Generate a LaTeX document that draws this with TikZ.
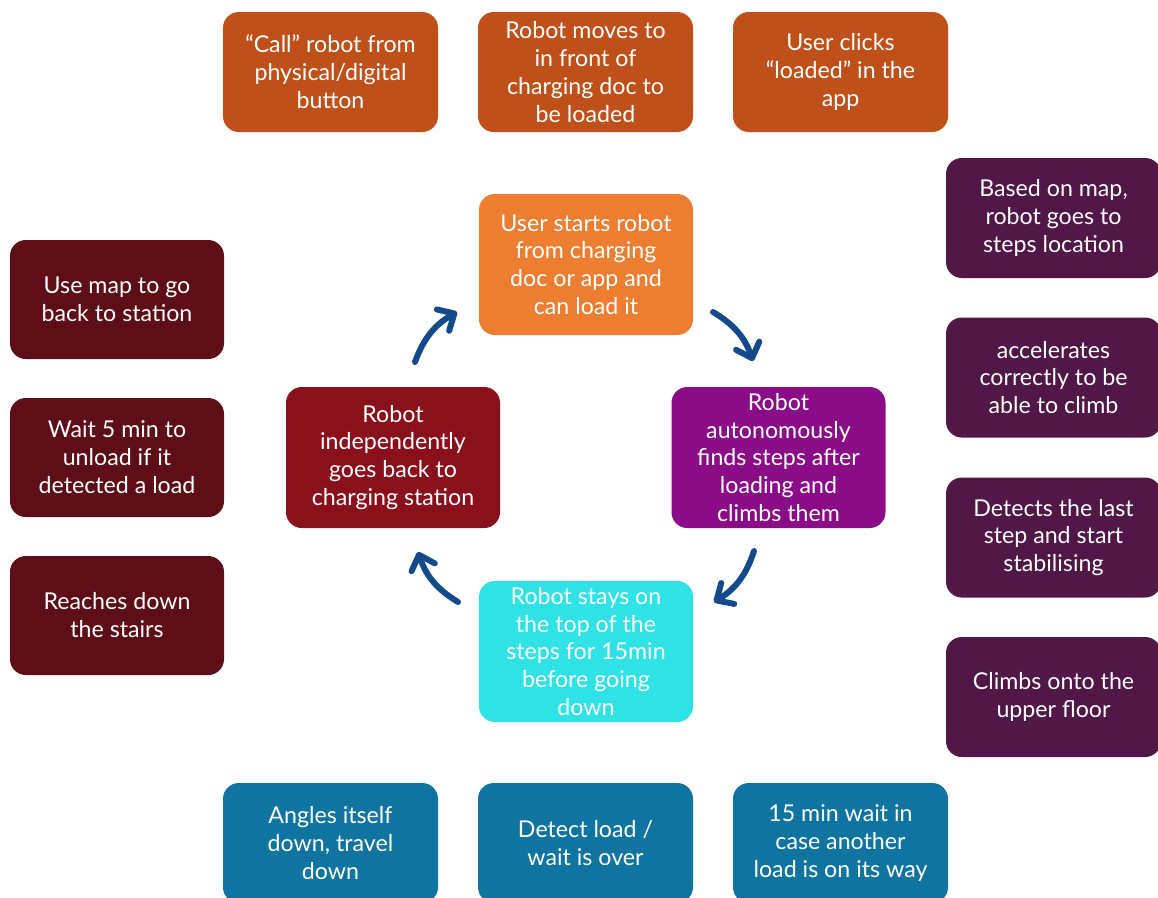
\documentclass[tikz,border=0pt]{standalone}
\usepackage{fontspec}
\setmainfont{Lato}
\usetikzlibrary{arrows.meta}
\definecolor{toprow}{HTML}{C0501A}
\definecolor{startc}{HTML}{ED7D31}
\definecolor{climbc}{HTML}{8A0C86}
\definecolor{stayc}{HTML}{2FE2E6}
\definecolor{backc}{HTML}{8A111C}
\definecolor{rightcol}{HTML}{501747}
\definecolor{leftcol}{HTML}{5D0E16}
\definecolor{bottomrow}{HTML}{0F75A0}
\definecolor{arrowc}{HTML}{134A8C}
\tikzset{
  box/.style={rounded corners=9pt, text=white, align=center, inner sep=0pt,
    font=\fontsize{13.2}{15.9}\selectfont, minimum width=215*0.02cm, minimum height=120*0.02cm},
  bigbox/.style={box, minimum width=214*0.02cm, minimum height=141*0.02cm},
  sidebox/.style={box, minimum width=214*0.02cm, minimum height=119*0.02cm},
  cyclearrow/.style={draw=arrowc, line width=3.4pt, line cap=round,
    -{Straight Barb[length=7.5pt,width=14pt,line width=3.4pt,round]}, bend left=20},
}
\begin{document}
\begin{tikzpicture}[x=0.02cm,y=-0.02cm]
\clip (0,0) rectangle (1158,897);
\useasboundingbox (0,0) rectangle (1158,897);
\fill[white] (0,0) rectangle (1158,897);

% top row
\node[box, fill=toprow] (t1) at (330.5,72) {“Call” robot from\\physical/digital\\button};
\node[box, fill=toprow] (t2) at (585.5,72) {Robot moves to\\in front of\\charging doc to\\be loaded};
\node[box, fill=toprow] (t3) at (840.5,72) {User clicks\\“loaded” in the\\app};

% cycle
\node[bigbox, fill=startc] (start) at (586,264.5) {User starts robot\\from charging\\doc or app and\\can load it};
\node[bigbox, fill=climbc] (climb) at (778.5,457.5) {Robot\\autonomously\\finds steps after\\loading and\\climbs them};
\node[bigbox, fill=stayc] (stay) at (586,651.5) {Robot stays on\\the top of the\\steps for 15min\\before going\\down};
\node[bigbox, fill=backc] (back) at (393,457.5) {Robot\\independently\\goes back to\\charging station};

% right column
\node[box, fill=rightcol] (r1) at (1053.5,218) {Based on map,\\robot goes to\\steps location};
\node[box, fill=rightcol] (r2) at (1053.5,377.5) {accelerates\\correctly to be\\able to climb};
\node[box, fill=rightcol] (r3) at (1053.5,537.5) {Detects the last\\step and start\\stabilising};
\node[box, fill=rightcol] (r4) at (1053.5,697) {Climbs onto the\\upper floor};

% left column
\node[sidebox, fill=leftcol] (l1) at (117,299.5) {Use map to go\\back to station};
\node[sidebox, fill=leftcol] (l2) at (117,457.5) {Wait 5 min to\\unload if it\\detected a load};
\node[sidebox, fill=leftcol] (l3) at (117,615.5) {Reaches down\\the stairs};

% bottom row
\node[box, fill=bottomrow] (b1) at (330.5,843) {Angles itself\\down, travel\\down};
\node[box, fill=bottomrow] (b2) at (585.5,843) {Detect load /\\wait is over};
\node[box, fill=bottomrow] (b3) at (840.5,843) {15 min wait in\\case another\\load is on its way};

% cycle arrows
\coordinate (a1s) at (415,362);
\coordinate (a1e) at (457,312);
\coordinate (a2s) at (713,312);
\coordinate (a2e) at (753,361);
\coordinate (a3s) at (754,551);
\coordinate (a3e) at (714,602);
\coordinate (a4s) at (458,602);
\coordinate (a4e) at (418,552);
\draw[cyclearrow] (a1s) to (a1e);
\draw[cyclearrow] (a2s) to (a2e);
\draw[cyclearrow] (a3s) to (a3e);
\draw[cyclearrow] (a4s) to (a4e);
\end{tikzpicture}
\end{document}
